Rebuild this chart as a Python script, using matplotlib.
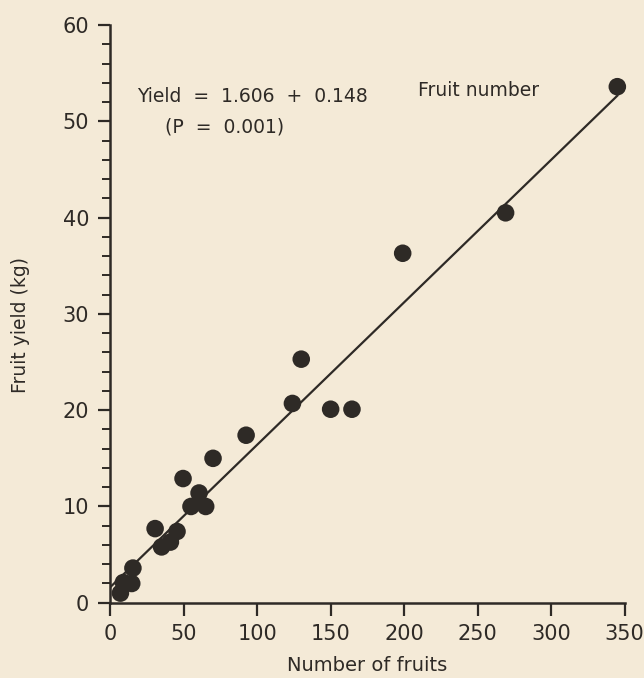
import matplotlib
matplotlib.use("Agg")
import matplotlib.pyplot as plt
import numpy as np
from matplotlib.ticker import MultipleLocator

fruit_number = [345, 269, 199, 130, 124, 150, 164.5, 92.5, 70, 49.6, 60.5, 55, 65,
                30.6, 35, 41, 45.5, 15.5, 14.7, 7, 9]
fruit_yield = [53.6, 40.5, 36.3, 25.3, 20.7, 20.1, 20.1, 17.4, 15.0, 12.9, 11.4, 10.0, 10.0,
               7.7, 5.8, 6.3, 7.4, 3.6, 2.0, 1.0, 2.1]
intercept = 1.606
slope = 0.148
line_x = [0, 345]

bg = '#f4ead7'
ink = '#2e2a26'
plt.rcParams['font.family'] = ['DejaVu Sans']

fig = plt.figure(figsize=(6.44, 6.78), dpi=100, facecolor=bg)
ax = fig.add_axes([0.171, 0.111, 0.799, 0.852], facecolor=bg)

lx = np.array(line_x, dtype=float)
ax.plot(lx, intercept + slope * lx, color=ink, lw=1.6, zorder=2)
ax.scatter(fruit_number, fruit_yield, s=160, color=ink, zorder=3, edgecolors='none',
           clip_on=False)

ax.set_xlim(0, 350)
ax.set_ylim(0, 60)
ax.spines['top'].set_visible(False)
ax.spines['right'].set_visible(False)
for sp in ['left', 'bottom']:
    ax.spines[sp].set_color(ink)
    ax.spines[sp].set_linewidth(1.8)
ax.xaxis.set_major_locator(MultipleLocator(50))
ax.yaxis.set_major_locator(MultipleLocator(10))
ax.yaxis.set_minor_locator(MultipleLocator(2))
ax.tick_params(axis='both', which='major', direction='out', length=9, width=1.6,
               color=ink, labelcolor=ink, labelsize=15, pad=6)
ax.tick_params(axis='y', which='minor', direction='out', length=6, width=1.4, color=ink)

ax.set_xlabel('Number of fruits', fontsize=14, color=ink)
ax.xaxis.set_label_coords(0.5, -0.093)
ax.set_ylabel('Fruit yield (kg)', fontsize=13.5, color=ink)
ax.yaxis.set_label_coords(-0.155, 0.48)

fig.text(137/644, 1 - 97/678, 'Yield  =  1.606  +  0.148', fontsize=13.5, color=ink,
         va='center', ha='left')
fig.text(418/644, 1 - 90/678, 'Fruit number', fontsize=13.5, color=ink, va='center', ha='left')
fig.text(165/644, 1 - 127/678, '(P  =  0.001)', fontsize=13.5, color=ink, va='center', ha='left')

fig.savefig('out.png', dpi=100, facecolor=bg)
